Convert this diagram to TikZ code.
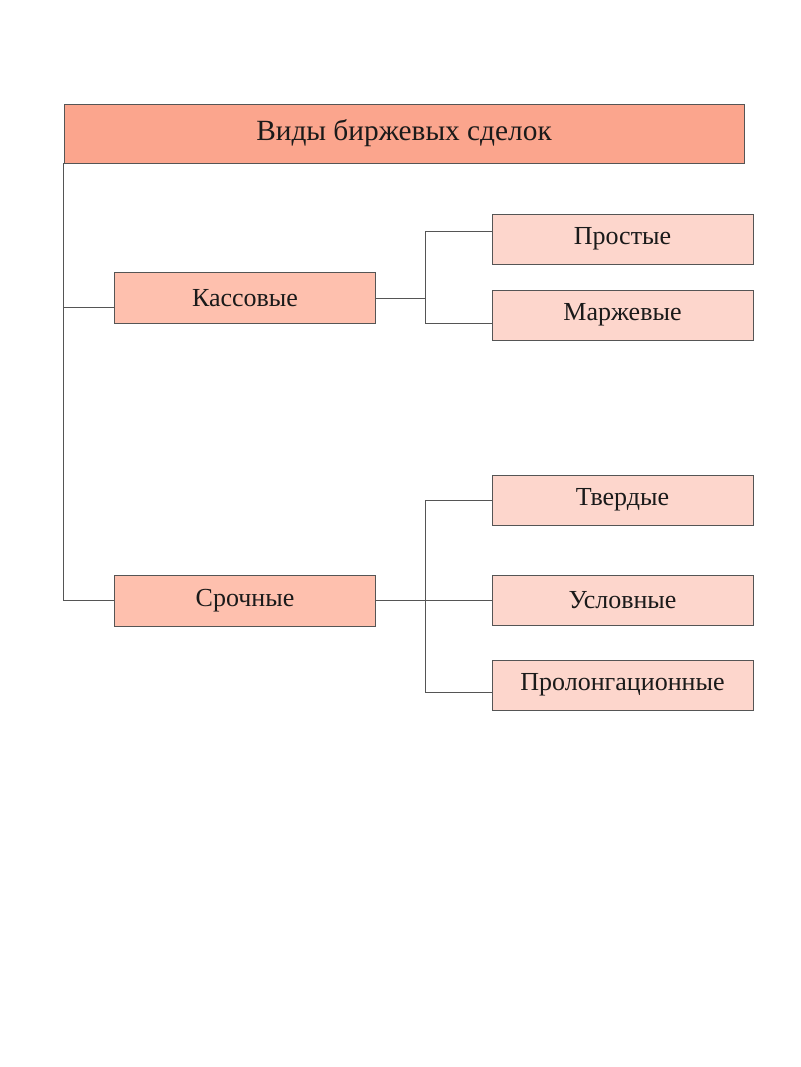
\documentclass[tikz,border=0pt]{standalone}
\usepackage{fontspec}
\setmainfont{Liberation Serif}
\usetikzlibrary{calc, positioning}
\usepackage{xcolor}

\definecolor{headfill}{HTML}{FBA58D}
\definecolor{midfill}{HTML}{FEC0AE}
\definecolor{leaffill}{HTML}{FDD6CC}
\definecolor{edgegray}{HTML}{555555}
\definecolor{textgray}{HTML}{1A1A1A}

\tikzset{
  headbox/.style={draw=edgegray, fill=headfill, minimum width=510pt, minimum height=44.25pt,
    font=\fontsize{22}{26}\selectfont, text=textgray, inner sep=0pt},
  midbox/.style={draw=edgegray, fill=midfill, minimum width=195.75pt, minimum height=38.25pt,
    font=\fontsize{19.5}{23}\selectfont, text=textgray, inner sep=0pt},
  leafbox/.style={draw=edgegray, fill=leaffill, minimum width=195.75pt, minimum height=37.5pt,
    font=\fontsize{19.5}{23}\selectfont, text=textgray, inner sep=0pt},
  link/.style={draw=edgegray, line width=0.7pt}
}

\begin{document}
\begin{tikzpicture}[x=0.75pt, y=-0.75pt]
  \useasboundingbox (0,0) rectangle (800,1067);

  % top box
  \node[headbox] (head) at (404,133.5) {Виды биржевых сделок};

  % second level
  \node[midbox] (kass) at (245,298) {Кассовые};
  \node[midbox] (sroch) at (245,600.5) {Срочные};

  % third level
  \node[leafbox] (prost) at (622.5,239) {Простые};
  \node[leafbox] (marzh) at (622.5,315) {Маржевые};
  \node[leafbox] (tverd) at (622.5,500) {Твердые};
  \node[leafbox] (uslov) at (622.5,600.5) {Условные};
  \node[leafbox] (prolong) at (622.5,685) {Пролонгационные};

  % trunk from the top box
  \draw[link] (head.south west) |- ([yshift=-6.75pt]kass.west);
  \draw[link] (head.south west) |- (sroch.west);

  % fork of Кассовые
  \coordinate (kfork) at ($(kass.east)+(50,0)$);
  \draw[link] (kass.east) -- (kfork);
  \draw[link] (kfork) |- ([yshift=6pt]prost.west);
  \draw[link] (kfork) |- ([yshift=-6pt]marzh.west);

  % fork of Срочные
  \coordinate (sfork) at ($(sroch.east)+(50,0)$);
  \draw[link] (sroch.east) -- (uslov.west);
  \draw[link] (sfork) |- (tverd.west);
  \draw[link] (sfork) |- ([yshift=-5.25pt]prolong.west);
\end{tikzpicture}
\end{document}
